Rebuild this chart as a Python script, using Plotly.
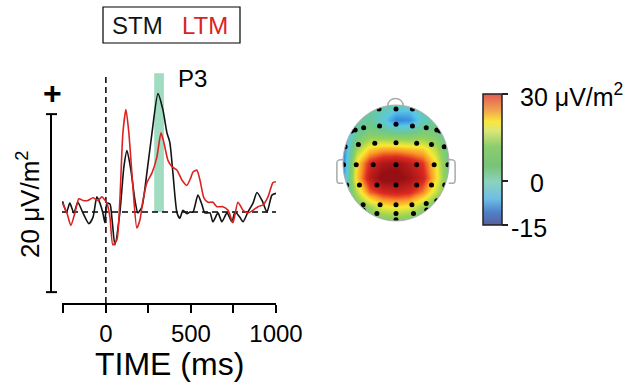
import plotly.graph_objects as go

# ---------------- data ----------------
SERIES_NAMES = ["STM", "LTM"]
SERIES_COLORS = ["#141414", "#dc2323"]

TIME_STM = [-255, -231, -212, -188, -165, -135, -100, -76, -53, -35, -18, -6, 6, 24, 35, 53, 82,
            106, 124, 147, 171, 188, 212, 241, 271, 306, 335, 359, 376, 394, 418, 435, 453, 476,
            494, 512, 541, 565, 582, 612, 629, 659, 682, 712, 741, 759, 788, 806, 835, 865, 888,
            918, 947, 976, 1000]
STM = [1.2, 0.0, 1.0, -0.1, 1.1, -0.1, -1.3, -0.6, 1.7, 1.0, -0.1, -1.2, 1.0, 0.9, -0.6, -3.7, -0.1,
       5.1, 6.9, 4.7, 1.3, -0.1, 0.6, 4.4, 8.9, 13.3, 11.5, 8.9, 7.8, 4.4, -0.1, -0.7, 0.2, -0.2,
       0.0, 0.0, 1.9, 0.8, -0.1, -0.1, -1.1, -0.1, -1.1, -0.1, -1.1, 0.0, -0.6, -1.1, 0.0, 1.0, 2.2,
       1.3, 0.0, 1.9, 2.1]

TIME_LTM = [-255, -229, -206, -182, -159, -135, -106, -76, -47, -24, 6, 24, 41, 65, 82, 100, 118,
            135, 159, 182, 200, 218, 241, 271, 300, 324, 341, 365, 388, 418, 447, 476, 500, 512,
            535, 553, 576, 600, 629, 653, 688, 718, 747, 776, 806, 835, 865, 894, 924, 953, 982, 1000]
LTM = [1.0, -0.1, -1.5, -0.1, 1.5, 1.3, 1.3, 1.6, 1.3, 1.7, 1.0, -0.6, -3.7, -3.1, 1.3, 8.9, 11.5,
       8.9, 2.8, -1.8, -0.9, 1.3, 3.3, 4.4, 6.2, 8.9, 7.8, 5.8, 5.1, 4.7, 3.6, 3.0, 3.9, 4.5,
       4.7, 3.6, 1.6, 1.1, 1.1, 0.6, 0.6, 0.2, -1.2, 1.1, 0.2, -0.1, 0.2, 0.6, 0.8, 1.7, 3.3, 3.4]

X_TICKS = [-250, 0, 250, 500, 750, 1000]
X_TICK_TEXT = ["", "0", "", "500", "", "1000"]
P3_WINDOW = [284, 341]
P3_HEIGHT = 15.6
SCALE_BAR = 20          # µV/m²
SCALE_TOP = 11

# topography (normalised head coordinates, rows top -> bottom)
GRID_X = [-1, -0.75, -0.5, -0.25, 0, 0.25, 0.5, 0.75, 1]
GRID_Y = [1, 0.75, 0.5, 0.25, 0, -0.25, -0.5, -0.75, -1]
TOPO_Z = [
    [0, 0, 2, 2, 1, 0, 2, 0, 0],
    [-2, 2, 3, -1, -8, -7, 0, 3, 2],
    [-5, 3, 7, 6, 5, 5, 7, 6, 0],
    [-8, 10, 17, 19, 19, 18, 17, 12, 2],
    [-8, 16, 25, 28, 29, 27, 24, 16, 3],
    [-6, 17, 27, 31, 31, 29, 26, 17, 4],
    [-3, 12, 22, 25, 26, 25, 21, 13, 5],
    [0, 5, 10, 15, 16, 15, 10, 5, 0],
    [0, 2, 4, 6, 7, 6, 4, 2, 0],
]
ELEC_X = [-0.32, 0, 0.31,
          -0.84, -0.77, -0.61, -0.31, 0, 0.31, 0.57, 0.77, 0.83,
          -0.96, -0.71, -0.40, 0, 0.39, 0.67, 0.91,
          -0.99, -0.75, -0.43, 0, 0.39, 0.72, 0.98,
          -0.93, -0.69, -0.36, 0, 0.39, 0.67, 0.92,
          -0.81, -0.62, -0.30, 0, 0.30, 0.57, 0.77,
          -0.62, -0.36, 0, 0.33, 0.58,
          0]
ELEC_Y = [0.93, 0.93, 0.93,
          0.55, 0.57, 0.61, 0.64, 0.67, 0.64, 0.61, 0.57, 0.55,
          0.28, 0.32, 0.34, 0.35, 0.34, 0.32, 0.28,
          -0.03, -0.03, -0.03, -0.03, -0.03, -0.03, -0.03,
          -0.38, -0.38, -0.38, -0.38, -0.38, -0.38, -0.38,
          -0.67, -0.72, -0.72, -0.72, -0.72, -0.70, -0.65,
          -0.81, -0.87, -0.87, -0.87, -0.81,
          -0.98]
CB_MIN, CB_MAX = -15, 30
CB_TICKS = [-15, 0, 30]
CB_LABELS = ["-15", "0", "30 μV/m<sup>2</sup>"]

FONT = "Liberation Sans, Arial, sans-serif"
W, H = 634, 388

def px(x):
    return x / W

def py(y):
    return 1 - y / H

topo_scale = [
    [0.0, "rgb(40,60,150)"], [0.15, "rgb(50,130,220)"], [0.28, "rgb(90,200,230)"],
    [0.42, "rgb(110,200,140)"], [0.55, "rgb(150,210,90)"], [0.68, "rgb(250,235,50)"],
    [0.78, "rgb(250,150,40)"], [0.87, "rgb(225,45,35)"], [1.0, "rgb(150,15,20)"],
]
cb_scale = [
    [0.0, "rgb(85,95,160)"], [0.1, "rgb(80,130,200)"], [0.2, "rgb(110,190,230)"],
    [0.33, "rgb(140,210,190)"], [0.45, "rgb(120,195,120)"], [0.6, "rgb(140,205,110)"],
    [0.72, "rgb(220,230,120)"], [0.79, "rgb(250,230,60)"], [0.88, "rgb(240,160,80)"],
    [1.0, "rgb(225,90,85)"],
]

fig = go.Figure()

# ERP traces
for t, v, name, col in [(TIME_STM, STM, SERIES_NAMES[0], SERIES_COLORS[0]),
                        (TIME_LTM, LTM, SERIES_NAMES[1], SERIES_COLORS[1])]:
    fig.add_trace(go.Scatter(x=t, y=v, mode="lines", name=name,
                             line=dict(color=col, width=1.6, shape="spline", smoothing=0.6),
                             showlegend=False, xaxis="x", yaxis="y"))

# Topography
fig.add_trace(go.Heatmap(x=GRID_X[:], y=GRID_Y[::-1], z=TOPO_Z[::-1], zmin=CB_MIN, zmax=CB_MAX,
                         colorscale=topo_scale, zsmooth="best", showscale=False,
                         xaxis="x2", yaxis="y2", hoverinfo="skip"))
fig.add_trace(go.Scatter(x=ELEC_X, y=ELEC_Y, mode="markers",
                         marker=dict(color="black", size=5), showlegend=False,
                         xaxis="x2", yaxis="y2"))
# colour bar carrier
fig.add_trace(go.Scatter(x=[None, None], y=[None, None], mode="markers", showlegend=False,
                         xaxis="x2", yaxis="y2",
                         marker=dict(color=[CB_MIN, CB_MAX], cmin=CB_MIN, cmax=CB_MAX,
                                     colorscale=cb_scale, showscale=True,
                                     colorbar=dict(x=px(483), xanchor="left", y=py(94), yanchor="top",
                                                   len=131, lenmode="pixels", thickness=19,
                                                   thicknessmode="pixels", outlinewidth=1.5,
                                                   outlinecolor="#222", ticks="outside", ticklen=6,
                                                   tickwidth=1.5, tickcolor="#222",
                                                   tickvals=CB_TICKS, showticklabels=False,
                                                   xpad=0, ypad=0))))

shapes = []
# P3 window
shapes.append(dict(type="rect", xref="x", yref="y", x0=P3_WINDOW[0], x1=P3_WINDOW[1],
                   y0=0, y1=P3_HEIGHT, fillcolor="rgb(160,220,192)", line=dict(width=0),
                   layer="below"))
# dashed zero lines
shapes.append(dict(type="line", xref="x", yref="y", x0=0, x1=0, y0=-10.22, y1=P3_HEIGHT,
                   line=dict(color="black", width=1.5, dash="6px,4px"), layer="below"))
shapes.append(dict(type="line", xref="x", yref="y", x0=-258, x1=1000, y0=0, y1=0,
                   line=dict(color="black", width=1.5, dash="6px,4px"), layer="below"))
# scale bar
sb_bot = SCALE_TOP - SCALE_BAR
shapes.append(dict(type="line", xref="paper", yref="y", x0=px(51), x1=px(51), y0=sb_bot,
                   y1=SCALE_TOP, line=dict(color="black", width=2)))
for yy in (sb_bot, SCALE_TOP):
    shapes.append(dict(type="line", xref="paper", yref="y", x0=px(46), x1=px(57), y0=yy, y1=yy,
                       line=dict(color="black", width=2)))
# legend box
shapes.append(dict(type="rect", xref="paper", yref="paper", x0=px(103), x1=px(240),
                   y0=py(43), y1=py(7), line=dict(color="black", width=1.2)))

# head mask (rectangle minus ellipse), outline, nose, ears
k = 0.5523
R = 1.0
mask = (f"M -1.4,-1.4 L 1.4,-1.4 L 1.4,1.4 L -1.4,1.4 Z "
        f"M 0,{R} C {k*R},{R} {R},{k*R} {R},0 C {R},{-k*R} {k*R},{-R} 0,{-R} "
        f"C {-k*R},{-R} {-R},{-k*R} {-R},0 C {-R},{k*R} {-k*R},{R} 0,{R} Z")
shapes.append(dict(type="path", xref="x2", yref="y2", path=mask, fillcolor="white",
                   line=dict(width=0), layer="above"))
outline = (f"M 0,{R} C {k*R},{R} {R},{k*R} {R},0 C {R},{-k*R} {k*R},{-R} 0,{-R} "
           f"C {-k*R},{-R} {-R},{-k*R} {-R},0 C {-R},{k*R} {-k*R},{R} 0,{R} Z")
shapes.append(dict(type="path", xref="x2", yref="y2", path=outline,
                   line=dict(color="rgb(175,175,175)", width=1), layer="above"))
shapes.append(dict(type="path", xref="x2", yref="y2",
                   path="M -0.16,0.975 C -0.16,1.16 0.14,1.16 0.14,0.975",
                   line=dict(color="rgb(170,170,170)", width=1.5), layer="above"))
for s in (-1, 1):
    ear = (f"M {s*0.995},0.06 L {s*1.08},0.05 Q {s*1.115},0.04 {s*1.115},0.0 "
           f"L {s*1.115},-0.30 Q {s*1.115},-0.34 {s*1.08},-0.35 L {s*0.995},-0.35")
    shapes.append(dict(type="path", xref="x2", yref="y2", path=ear,
                       line=dict(color="rgb(170,170,170)", width=1.5), layer="above"))

ann = []
def add_text(text, x, y, size, color="black", xanchor="center", **kw):
    ann.append(dict(text=text, x=x, y=y, xref="paper", yref="paper", showarrow=False,
                    xanchor=xanchor, yanchor="middle",
                    font=dict(family=FONT, size=size, color=color), **kw))

add_text(SERIES_NAMES[0], px(137.5), py(26), 24, SERIES_COLORS[0])
add_text(SERIES_NAMES[1], px(204.5), py(26), 24, SERIES_COLORS[1])
add_text("P3", px(192), py(79), 24)
add_text("<b>+</b>", px(52), py(93), 32)
add_text("20 μV/m<sup>2</sup>", px(28), py(205), 26, textangle=-90)
add_text("TIME (ms)", px(169), py(364), 32)
add_text(CB_LABELS[2], px(518), py(95), 25, xanchor="left")
add_text(CB_LABELS[1], px(546), py(183), 25, xanchor="right")
add_text(CB_LABELS[0], px(549), py(228), 25, xanchor="right")

fig.update_layout(
    width=W, height=H, margin=dict(l=0, r=0, t=0, b=0, autoexpand=False),
    paper_bgcolor="white", plot_bgcolor="white", showlegend=False,
    font=dict(family=FONT, color="black"),
    xaxis=dict(domain=[px(62), px(276)], range=[-258, 1000], showgrid=False, zeroline=False,
               showline=True, linecolor="black", linewidth=2, ticks="outside", ticklen=8,
               tickwidth=1.8, tickcolor="black", tickvals=X_TICKS, ticktext=X_TICK_TEXT,
               tickfont=dict(family=FONT, size=24), anchor="y", automargin=False),
    yaxis=dict(domain=[py(303), py(60)], range=[-10.22, 17.08], visible=False, anchor="x"),
    xaxis2=dict(domain=[px(330), px(462)], range=[-1.245, 1.245], visible=False, anchor="y2"),
    yaxis2=dict(domain=[py(236), py(90)], range=[-1.259, 1.259], visible=False, anchor="x2"),
    shapes=shapes, annotations=ann,
)

fig.write_html("out.html", config={"displayModeBar": False},
               post_script="document.body.style.margin='0';document.body.style.overflow='hidden';")
